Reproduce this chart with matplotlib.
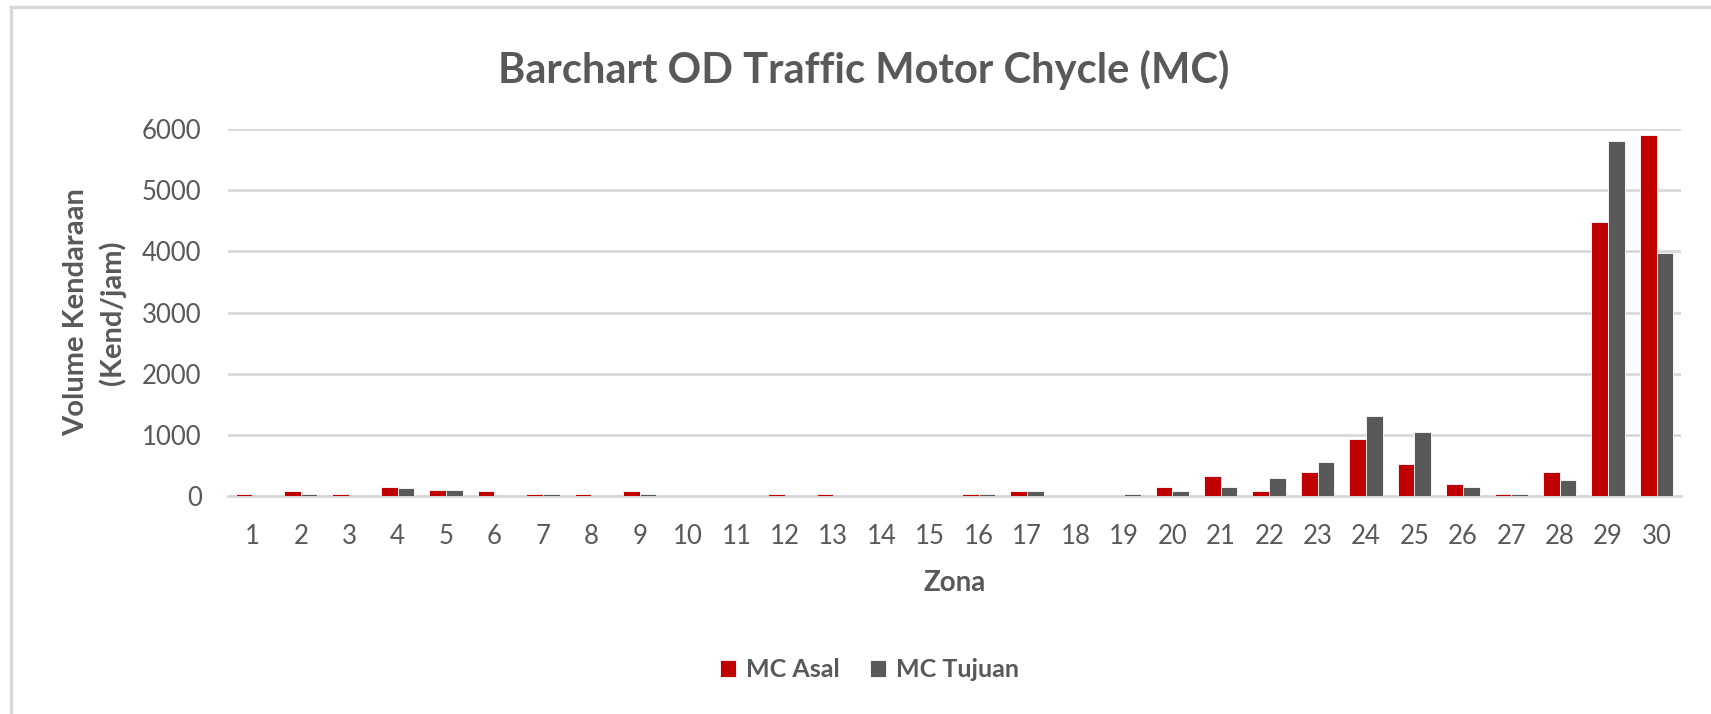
import numpy as np
import matplotlib.pyplot as plt
from matplotlib.patches import Rectangle

# data (Kend/jam per zone)
zona = list(range(1, 31))
mc_asal = [40, 80, 40, 150, 100, 80, 40, 40, 80, 0,
           0, 40, 40, 0, 0, 40, 80, 0, 0, 140,
           320, 90, 400, 940, 530, 190, 35, 400, 4480, 5900]
mc_tujuan = [0, 40, 0, 125, 100, 0, 40, 0, 40, 0,
             0, 0, 0, 0, 0, 40, 80, 0, 40, 90,
             140, 295, 560, 1310, 1045, 140, 35, 270, 5800, 3970]
y_ticks = [0, 1000, 2000, 3000, 4000, 5000, 6000]

red = "#C00000"
grey = "#595959"
text_col = "#595959"
grid_col = "#D9D9D9"

plt.rcParams['font.family'] = ['Lato', 'DejaVu Sans']

fig = plt.figure(figsize=(17.11, 7.14), dpi=100)
ax = fig.add_axes([0.1333, 0.3053, 0.849, 0.514])

x = np.arange(len(zona))
w = 0.345
ax.bar(x - w / 2, mc_asal, width=w, color=red, edgecolor="white", linewidth=0.6, label="MC Asal", zorder=3)
ax.bar(x + w / 2, mc_tujuan, width=w, color=grey, edgecolor="white", linewidth=0.6, label="MC Tujuan", zorder=3)

ax.set_xlim(-0.5, len(zona) - 0.5)
ax.set_ylim(0, 6000)
ax.set_yticks(y_ticks)
ax.set_xticks(x)
ax.set_xticklabels([str(z) for z in zona])

ax.yaxis.grid(True, color=grid_col, linewidth=2, zorder=0)
ax.set_axisbelow(True)
for s in ["top", "right", "left"]:
    ax.spines[s].set_visible(False)
ax.spines["bottom"].set_color(grid_col)
ax.spines["bottom"].set_linewidth(2)
ax.tick_params(axis="both", length=0, labelsize=18.5, labelcolor=text_col)
ax.tick_params(axis="y", pad=19)
ax.tick_params(axis="x", pad=20)

# axis titles, centred on fixed spots
ax.set_xlabel("Zona", fontsize=20, fontweight="bold", color=text_col, va="center")
ax.xaxis.set_label_coords(0.5, -0.237)
ax.set_ylabel("Volume Kendaraan\n(Kend/jam)", fontsize=21, fontweight="bold", color=text_col,
              linespacing=1.4, va="center")
ax.yaxis.set_label_coords(-0.092, 0.5)

fig.text(0.505, 0.902, "Barchart OD Traffic Motor Chycle (MC)", ha="center", va="center",
         fontsize=30, fontweight="bold", color=text_col)

leg = fig.legend(loc="center", bbox_to_anchor=(0.508, 0.062), ncol=2, frameon=False,
                 fontsize=18, handlelength=0.65, handleheight=0.65, handletextpad=0.4, columnspacing=1.2)
for t in leg.get_texts():
    t.set_color(text_col)
    t.set_fontweight("bold")

# chart border like the spreadsheet chart frame
fig.add_artist(Rectangle((0.0064, -0.01), 1.1, 1.0, transform=fig.transFigure,
                         fill=False, edgecolor=grid_col, linewidth=2.5))

fig.savefig("out.png", dpi=100, facecolor="white")
